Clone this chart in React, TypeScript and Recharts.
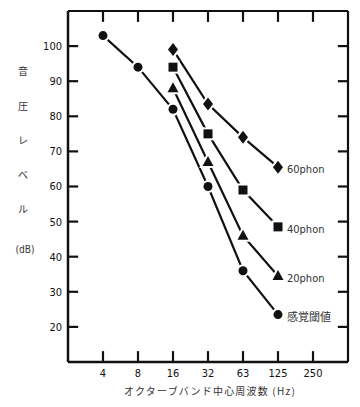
import { LineChart, Line, XAxis, YAxis, ReferenceLine } from "recharts";

// octave band centre frequencies (Hz), evenly spaced on the x axis
const FREQS = ["4", "8", "16", "32", "63", "125", "250"];
const Y_TICKS = [20, 30, 40, 50, 60, 70, 80, 90, 100];
const X_TICKS = [0, 1, 2, 3, 4, 5, 6];

// sound pressure levels (dB)
const THRESHOLD = [103, 94, 82, 60, 36, 23.5];
const PHON20 = [null, null, 88, 67, 46, 34.5];
const PHON40 = [null, null, 94, 75, 59, 48.5];
const PHON60 = [null, null, 99, 83.5, 74, 65.5];

const SERIES_NAMES = { thr: "感覚閾値", p20: "20phon", p40: "40phon", p60: "60phon" };
const Y_TITLE = ["音", "圧", "レ", "ベ", "ル"];
const X_TITLE = "オクターブバンド中心周波数 (Hz)";

const data = FREQS.map((f, i) => ({
  x: i,
  thr: THRESHOLD[i] ?? undefined,
  p20: PHON20[i] ?? undefined,
  p40: PHON40[i] ?? undefined,
  p60: PHON60[i] ?? undefined,
}));

const X_DOMAIN = [-1, 7];
const Y_DOMAIN = [10, 110];
// tick lengths in data units (about 10-11 px each)
const X_TICK_LEN = 0.29;
const Y_TICK_LEN = 3.1;

const FONT = "'Liberation Sans Narrow', 'DejaVu Sans Condensed', 'Liberation Sans', sans-serif";
const JP = "'Noto Sans CJK JP', sans-serif";
const INK = "#111";
const RULE = 2.2;
const LAST = THRESHOLD.length - 1;

type Shape = "circle" | "square" | "triangle" | "diamond";

const Marker = ({ cx, cy, shape }: { cx: number; cy: number; shape: Shape }) => {
  const halo = { fill: INK, stroke: "#fff", strokeWidth: 4, paintOrder: "stroke" } as any;
  if (shape === "circle") return <circle cx={cx} cy={cy} r={4.5} {...halo} />;
  if (shape === "square") return <rect x={cx - 4.5} y={cy - 4.5} width={9} height={9} {...halo} />;
  if (shape === "triangle")
    return <polygon points={`${cx},${cy - 6} ${cx + 5.5},${cy + 4} ${cx - 5.5},${cy + 4}`} {...halo} />;
  return <polygon points={`${cx},${cy - 6.5} ${cx + 5},${cy} ${cx},${cy + 6.5} ${cx - 5},${cy}`} {...halo} />;
};

// marker for every point, plus the series name beside the last one
const dotFor = (shape: Shape, name: string) => (props: any) => {
  const { cx, cy, index } = props;
  if (cx == null || cy == null || isNaN(cy)) return <g key={`${shape}-${index}`} />;
  return (
    <g key={`${shape}-${index}`}>
      <Marker cx={cx} cy={cy} shape={shape} />
      {index === LAST && (
        <text x={cx + 9} y={cy + 6} fontSize={11} fill="#333" stroke="none" fontFamily={name === SERIES_NAMES.thr ? JP : FONT}>
          {name}
        </text>
      )}
    </g>
  );
};

export default function App() {
  return (
    <div style={{ position: "absolute", left: 0, top: 0, width: 360, height: 407, background: "#fff" }}>
      <LineChart width={360} height={407} data={data} margin={{ top: 11, right: 12, bottom: 0, left: 0 }}>
        <XAxis
          dataKey="x"
          type="number"
          domain={X_DOMAIN}
          ticks={X_TICKS}
          tickFormatter={(v: number) => FREQS[v]}
          height={45}
          tickSize={0}
          tickMargin={7}
          tickLine={false}
          stroke={INK}
          strokeWidth={2.5}
          fontSize={11}
          fontFamily={FONT}
        />
        <YAxis
          domain={Y_DOMAIN}
          ticks={Y_TICKS}
          width={68}
          tickSize={0}
          tickMargin={6}
          tickLine={false}
          stroke={INK}
          strokeWidth={2.5}
          fontSize={11}
          fontFamily={FONT}
        />
        {/* frame top and right, and inward tick marks on all four sides */}
        <ReferenceLine y={Y_DOMAIN[1]} stroke={INK} strokeWidth={RULE} ifOverflow="visible" />
        <ReferenceLine x={X_DOMAIN[1]} stroke={INK} strokeWidth={RULE} ifOverflow="visible" />
        {X_TICKS.map((t) => (
          <ReferenceLine
            key={`xb${t}`}
            segment={[{ x: t, y: Y_DOMAIN[0] }, { x: t, y: Y_DOMAIN[0] + Y_TICK_LEN }]}
            stroke={INK}
            strokeWidth={RULE}
            ifOverflow="visible"
          />
        ))}
        {X_TICKS.map((t) => (
          <ReferenceLine
            key={`xt${t}`}
            segment={[{ x: t, y: Y_DOMAIN[1] }, { x: t, y: Y_DOMAIN[1] - Y_TICK_LEN }]}
            stroke={INK}
            strokeWidth={RULE}
            ifOverflow="visible"
          />
        ))}
        {Y_TICKS.map((t) => (
          <ReferenceLine
            key={`yl${t}`}
            segment={[{ x: X_DOMAIN[0], y: t }, { x: X_DOMAIN[0] + X_TICK_LEN, y: t }]}
            stroke={INK}
            strokeWidth={RULE}
            ifOverflow="visible"
          />
        ))}
        {Y_TICKS.map((t) => (
          <ReferenceLine
            key={`yr${t}`}
            segment={[{ x: X_DOMAIN[1], y: t }, { x: X_DOMAIN[1] - X_TICK_LEN, y: t }]}
            stroke={INK}
            strokeWidth={RULE}
            ifOverflow="visible"
          />
        ))}
        <Line dataKey="thr" stroke={INK} strokeWidth={2.2} dot={dotFor("circle", SERIES_NAMES.thr)} activeDot={false} isAnimationActive={false} />
        <Line dataKey="p20" stroke={INK} strokeWidth={2.2} dot={dotFor("triangle", SERIES_NAMES.p20)} activeDot={false} isAnimationActive={false} />
        <Line dataKey="p40" stroke={INK} strokeWidth={2.2} dot={dotFor("square", SERIES_NAMES.p40)} activeDot={false} isAnimationActive={false} />
        <Line dataKey="p60" stroke={INK} strokeWidth={2.2} dot={dotFor("diamond", SERIES_NAMES.p60)} activeDot={false} isAnimationActive={false} />
      </LineChart>
      {Y_TITLE.map((c, i) => (
        <div
          key={c}
          style={{ position: "absolute", left: 13, top: 65 + i * 34.5, width: 20, textAlign: "center", fontSize: 10, lineHeight: "12px", fontFamily: JP, color: "#333" }}
        >
          {c}
        </div>
      ))}
      <div style={{ position: "absolute", left: 5, top: 244, width: 40, textAlign: "center", fontSize: 10, lineHeight: "12px", fontFamily: FONT, color: "#333" }}>
        (dB)
      </div>
      <div style={{ position: "absolute", left: 60, top: 385, width: 300, textAlign: "center", fontSize: 10, lineHeight: "12px", letterSpacing: 1.2, fontFamily: JP, color: "#333" }}>
        {X_TITLE}
      </div>
    </div>
  );
}
